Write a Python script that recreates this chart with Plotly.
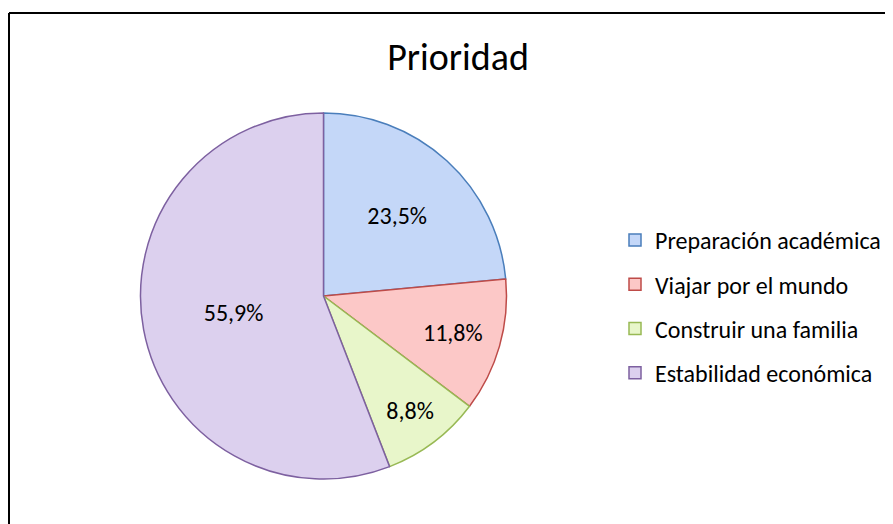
import plotly.graph_objects as go

categories = ["Preparación académica", "Viajar por el mundo", "Construir una familia", "Estabilidad económica"]
counts = [8, 4, 3, 19]
fill_colors = ["#c4d7f8", "#fcc8c7", "#e8f6ca", "#dcd0ee"]
edge_colors = ["#4a7ebb", "#be4b48", "#98b954", "#7d60a0"]
title_text = "Prioridad"

W, H = 893, 524
OFF = 8  # page body margin
FONT = "Carlito, Lato, 'Open Sans', sans-serif"

cx, cy, R = 323.5 - OFF, 296 - OFF, 183

fig = go.Figure()
fig.add_trace(go.Pie(
    labels=categories, values=counts, sort=False, direction="clockwise", rotation=0,
    marker=dict(colors=fill_colors, line=dict(color=edge_colors, width=1.5)),
    texttemplate="%{percent:.1%}", textposition="inside", insidetextorientation="horizontal",
    textfont=dict(size=24, color="black", family=FONT),
    domain=dict(x=[(cx - R) / W, (cx + R) / W], y=[(H - cy - R) / H, (H - cy + R) / H]),
    showlegend=False, hoverinfo="label+percent",
))
for i, cat in enumerate(categories):
    fig.add_trace(go.Scatter(
        x=[None], y=[None], mode="markers", name=cat, legendgroup=f"g{i}",
        marker=dict(symbol="square", size=12, color=fill_colors[i], line=dict(color=edge_colors[i], width=1.5)),
    ))

fig.update_layout(
    width=W, height=H, margin=dict(l=0, r=0, t=0, b=0),
    paper_bgcolor="white", plot_bgcolor="rgba(0,0,0,0)",
    font=dict(family=FONT, color="black"),
    separators=",.",
    uniformtext=dict(minsize=24, mode="show"),
    title=dict(text=title_text, x=(458 - OFF) / W, xanchor="center", y=1 - (57 - OFF) / H, yanchor="middle",
               font=dict(size=38, family=FONT, color="black")),
    xaxis=dict(visible=False), yaxis=dict(visible=False),
    legend=dict(x=(655 - OFF - 40) / W, xanchor="left", y=1 - (218 - OFF) / H, yanchor="top",
                font=dict(size=24, family=FONT, color="black"),
                tracegroupgap=10, itemwidth=30, bgcolor="rgba(0,0,0,0)"),
    shapes=[
        dict(type="line", xref="paper", yref="paper", x0=(9 - OFF) / W, x1=1.02, y0=1 - (13 - OFF) / H,
             y1=1 - (13 - OFF) / H, line=dict(color="black", width=2)),
        dict(type="line", xref="paper", yref="paper", x0=(9 - OFF) / W, x1=(9 - OFF) / W, y0=-0.05,
             y1=1 - (13 - OFF) / H, line=dict(color="black", width=2)),
    ],
)
fig.write_html("out.html")
